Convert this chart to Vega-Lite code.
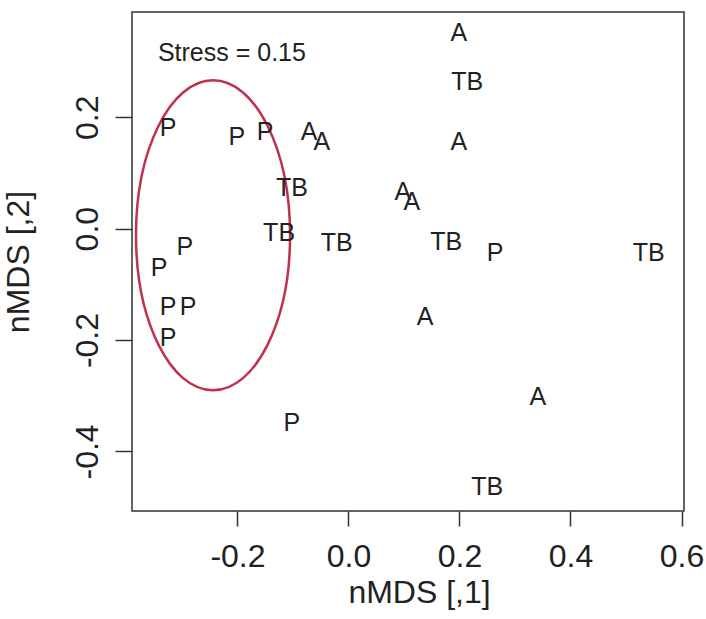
{
  "$schema": "https://vega.github.io/schema/vega-lite/v6.json",
  "width": 552,
  "height": 499,
  "autosize": "none",
  "padding": {"left": 132, "top": 12, "right": 22, "bottom": 108},
  "background": "white",
  "config": {
    "view": {"stroke": "#333333", "strokeWidth": 1.5},
    "font": "Liberation Sans",
    "axis": {"grid": false, "domain": false, "tickColor": "#333333", "tickWidth": 1.5, "labelColor": "#222222", "titleColor": "#222222", "labelFont": "Liberation Sans", "titleFont": "Liberation Sans", "titleFontWeight": "normal", "labelFontSize": 32, "titleFontSize": 32}
  },
  "datasets": {
    "sites": [
      {"x": -0.325, "y": 0.180, "label": "P"},
      {"x": -0.201, "y": 0.164, "label": "P"},
      {"x": -0.150, "y": 0.173, "label": "P"},
      {"x": -0.295, "y": -0.033, "label": "P"},
      {"x": -0.341, "y": -0.071, "label": "P"},
      {"x": -0.325, "y": -0.141, "label": "P"},
      {"x": -0.289, "y": -0.141, "label": "P"},
      {"x": -0.325, "y": -0.197, "label": "P"},
      {"x": -0.102, "y": -0.349, "label": "P"},
      {"x": 0.264, "y": -0.044, "label": "P"},
      {"x": 0.199, "y": 0.351, "label": "A"},
      {"x": -0.071, "y": 0.173, "label": "A"},
      {"x": -0.048, "y": 0.155, "label": "A"},
      {"x": 0.199, "y": 0.155, "label": "A"},
      {"x": 0.098, "y": 0.066, "label": "A"},
      {"x": 0.114, "y": 0.048, "label": "A"},
      {"x": 0.138, "y": -0.159, "label": "A"},
      {"x": 0.341, "y": -0.302, "label": "A"},
      {"x": 0.214, "y": 0.263, "label": "TB"},
      {"x": -0.102, "y": 0.073, "label": "TB"},
      {"x": -0.125, "y": -0.008, "label": "TB"},
      {"x": -0.021, "y": -0.026, "label": "TB"},
      {"x": 0.176, "y": -0.024, "label": "TB"},
      {"x": 0.541, "y": -0.044, "label": "TB"},
      {"x": 0.250, "y": -0.464, "label": "TB"}
    ],
    "ellipse": [{"x": -0.244, "y": -0.012}],
    "note": [{"x": -0.210, "y": 0.315, "label": "Stress = 0.15"}]
  },
  "encoding": {
    "x": {
      "field": "x", "type": "quantitative",
      "scale": {"domain": [-0.39, 0.6045], "nice": false, "zero": false},
      "axis": {"values": [-0.2, 0, 0.2, 0.4, 0.6], "labelExpr": "replace(format(datum.value, '.1f'), '−', '-')", "tickSize": 15, "labelPadding": 15, "title": "nMDS [,1]", "titlePadding": 5, "titleX": 287, "titleAnchor": "start", "titleAlign": "center", "labelFlush": false, "labelOverlap": false}
    },
    "y": {
      "field": "y", "type": "quantitative",
      "scale": {"domain": [-0.507, 0.389], "nice": false, "zero": false},
      "axis": {"values": [-0.4, -0.2, 0, 0.2], "labelExpr": "replace(format(datum.value, '.1f'), '−', '-')", "tickSize": 17, "labelPadding": 18, "labelAngle": -90, "labelAlign": "center", "labelBaseline": "alphabetic", "title": "nMDS [,2]", "titlePadding": 36, "labelFlush": false, "labelOverlap": false}
    }
  },
  "layer": [
    {
      "data": {"name": "ellipse"},
      "mark": {"type": "point", "shape": "M -0.497 0 A 0.497 1 0 1 1 0.497 0 A 0.497 1 0 1 1 -0.497 0 Z", "size": 96100, "filled": false, "fill": null, "stroke": "#c0304f", "strokeWidth": 2.5, "opacity": 1}
    },
    {
      "data": {"name": "sites"},
      "mark": {"type": "text", "font": "Liberation Sans", "fontSize": 25, "color": "#222222", "align": "center", "baseline": "middle"},
      "encoding": {"text": {"field": "label"}}
    },
    {
      "data": {"name": "note"},
      "mark": {"type": "text", "font": "Liberation Sans", "fontSize": 25, "color": "#222222", "align": "center", "baseline": "middle"},
      "encoding": {"text": {"field": "label"}}
    }
  ]
}
